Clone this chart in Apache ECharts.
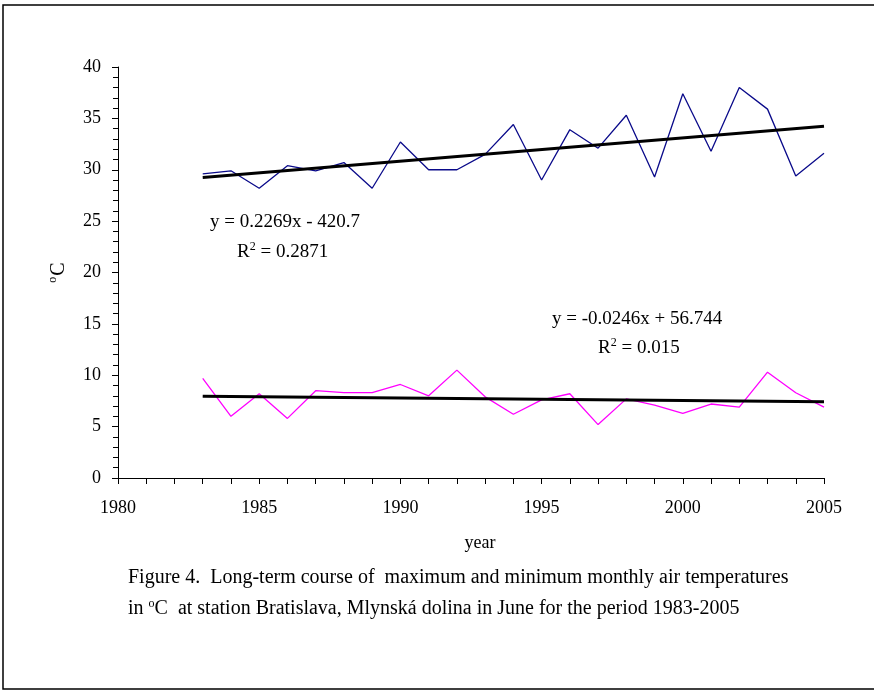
<!DOCTYPE html>
<html>
<head>
<meta charset="utf-8">
<script src="https://cdn.jsdelivr.net/npm/echarts@6/dist/echarts.min.js"></script>
<style>
html,body{margin:0;padding:0;background:#fff;}
#chart{width:874px;height:691px;}
</style>
</head>
<body>
<div id="chart"></div>
<script>
// ---- data ----
const years = [1983,1984,1985,1986,1987,1988,1989,1990,1991,1992,1993,1994,1995,1996,1997,1998,1999,2000,2001,2002,2003,2004,2005];
const maxTemp = [29.6,29.9,28.2,30.4,29.9,30.7,28.2,32.7,30.0,30.0,31.5,34.4,29.0,33.9,32.1,35.3,29.3,37.4,31.8,38.0,35.9,29.4,31.6];
const minTemp = [9.7,6.0,8.2,5.8,8.5,8.3,8.3,9.1,8.0,10.5,7.9,6.2,7.6,8.2,5.2,7.7,7.1,6.3,7.2,6.9,10.3,8.3,6.9];
const trendYears = [1983, 2005];
const maxTrend = [29.24, 34.23];
const minTrend = [7.96, 7.42];
const xTicks = [1980,1985,1990,1995,2000,2005];
const yTicks = [0,5,10,15,20,25,30,35,40];

const pairs = (xs, ys) => xs.map((x, i) => [x, ys[i]]);
const serif = '"Liberation Serif","Times New Roman",serif';

const chart = echarts.init(document.getElementById('chart'), null, {renderer: 'canvas'});
chart.setOption({
  backgroundColor: '#fff',
  animation: false,
  grid: {left: 118, right: 50, top: 67, bottom: 213, containLabel: false},
  xAxis: {
    type: 'value', min: xTicks[0], max: xTicks[xTicks.length-1], interval: 5,
    name: 'year', nameLocation: 'middle', nameGap: 56,
    nameTextStyle: {fontFamily: serif, fontSize: 18, color: '#000', padding: [0,0,0,18]},
    axisLine: {show: true, onZero: false, lineStyle: {color: '#000', width: 1}},
    axisTick: {show: true, length: 6, lineStyle: {color: '#000'}},
    minorTick: {show: true, splitNumber: 5, length: 6, lineStyle: {color: '#000'}},
    axisLabel: {fontFamily: serif, fontSize: 18, color: '#000', margin: 21, formatter: v => String(v)},
    splitLine: {show: false}
  },
  yAxis: {
    type: 'value', min: yTicks[0], max: yTicks[yTicks.length-1], interval: 5,
    name: '{sup|o}C', nameLocation: 'middle', nameGap: 47, nameRotate: 90,
    nameTextStyle: {fontFamily: serif, fontSize: 20, color: '#000',
      rich: {sup: {fontFamily: serif, fontSize: 12, color: '#000', verticalAlign: 'top', padding: [0,1,12,0]}}},
    axisLine: {show: true, lineStyle: {color: '#000', width: 1}},
    axisTick: {show: true, length: 6, lineStyle: {color: '#000'}},
    minorTick: {show: true, splitNumber: 5, length: 5, lineStyle: {color: '#000'}},
    axisLabel: {fontFamily: serif, fontSize: 18, color: '#000', margin: 17, formatter: v => String(v)},
    splitLine: {show: false}
  },
  series: [
    {type: 'line', data: pairs(years, maxTemp), symbol: 'none', lineStyle: {color: '#0a0a8a', width: 1.3}, z: 2},
    {type: 'line', data: pairs(years, minTemp), symbol: 'none', lineStyle: {color: '#ff00ff', width: 1.3}, z: 2},
    {type: 'line', data: pairs(trendYears, maxTrend), symbol: 'none', lineStyle: {color: '#000', width: 3}, z: 3},
    {type: 'line', data: pairs(trendYears, minTrend), symbol: 'none', lineStyle: {color: '#000', width: 3}, z: 3}
  ],
  graphic: [
    {type: 'rect', shape: {x: 3, y: 5, width: 900, height: 684}, style: {fill: 'none', stroke: '#000', lineWidth: 1.5}, silent: true},
    {type: 'text', left: 210, top: 213, style: {text: 'y = 0.2269x - 420.7', font: '19px ' + serif, fill: '#000'}},
    {type: 'text', left: 237, top: 241, style: {text: '{n|R}{s|2}{n| = 0.2871}', fill: '#000',
      rich: {n: {font: '19px ' + serif, fill: '#000'}, s: {font: '12px ' + serif, fill: '#000', verticalAlign: 'top', padding: [0,0,10,0]}}}},
    {type: 'text', left: 552, top: 310, style: {text: 'y = -0.0246x + 56.744', font: '19px ' + serif, fill: '#000'}},
    {type: 'text', left: 598, top: 337, style: {text: '{n|R}{s|2}{n| = 0.015}', fill: '#000',
      rich: {n: {font: '19px ' + serif, fill: '#000'}, s: {font: '12px ' + serif, fill: '#000', verticalAlign: 'top', padding: [0,0,10,0]}}}},
    {type: 'text', left: 128, top: 568, style: {text: 'Figure 4.  Long-term course of  maximum and minimum monthly air temperatures', font: '20px ' + serif, fill: '#000'}},
    {type: 'text', left: 128, top: 598, style: {text: '{n|in }{s|o}{n|C  at station Bratislava, Mlynská dolina in June for the period 1983-2005}', fill: '#000',
      rich: {n: {font: '20px ' + serif, fill: '#000'}, s: {font: '12px ' + serif, fill: '#000', verticalAlign: 'top', padding: [0,0,10,0]}}}}
  ]
});
</script>
</body>
</html>
